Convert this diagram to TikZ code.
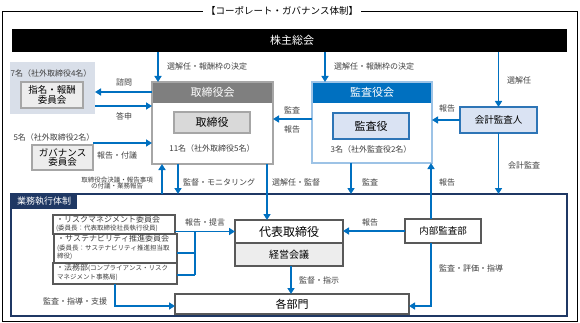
\documentclass[tikz,border=0pt]{standalone}
\usepackage{fontspec}
\setmainfont{Noto Sans CJK JP}[Kerning=Off]
\usetikzlibrary{arrows.meta}
\definecolor{arrblue}{HTML}{0070C0}
\definecolor{navy}{HTML}{1F3864}
\definecolor{dgray}{HTML}{595959}
\definecolor{mgray}{HTML}{A6A6A6}
\definecolor{hgray}{HTML}{7F7F7F}
\definecolor{lgray}{HTML}{EDEDED}
\definecolor{igray}{HTML}{D9D9D9}
\definecolor{bgblue}{HTML}{D9DFE9}
\definecolor{lblue}{HTML}{DAE3F3}
\definecolor{sblue}{HTML}{9DC3E6}
\definecolor{mblue}{HTML}{2E75B6}
\definecolor{txt}{HTML}{404040}
\newcommand{\fs}[1]{\fontsize{#1}{\fpeval{1.2*#1}}\selectfont}
\begin{document}
\begin{tikzpicture}[x=1pt,y=-1pt,
  every node/.style={outer sep=0pt},
  arr/.style={draw=arrblue,line width=1.8pt,-{Triangle[length=6pt,width=7pt]}},
  ln/.style={draw=arrblue,line width=1.8pt},
  lbl/.style={font=\fs{8}, text=txt, inner sep=1pt},
  gbox/.style={draw=mgray,line width=1.5pt,anchor=north west},
  kbox/.style={draw=dgray,line width=1.5pt,anchor=north west,fill=white},
  cbox/.style={draw=dgray,line width=1.5pt,anchor=north west,fill=white,text=txt,inner sep=0pt}
]
\useasboundingbox (0,0) rectangle (580,323);
\fill[white] (0,0) rectangle (580,323);
% outer frame and title
\draw[line width=0.8pt] (2,11) rectangle (577,321);
\node[fill=white, font=\fs{9.5}, inner xsep=3pt, inner ysep=1pt] (title) at (282,11) {【コーポレート・ガバナンス体制】};
% shareholders
\node[fill=black, minimum width=555pt, minimum height=23pt, anchor=north west] (kabu) at (12,29) {};
\node[text=white, font=\fs{11}] (kabut) at (292,40.5) {株主総会};
% board
\node[gbox, fill=white, minimum width=121pt, minimum height=82pt] (tb) at (152,82) {};
\node[fill=hgray, text=white, font=\fs{11}, minimum width=121pt, minimum height=21pt, anchor=north west] (tbh) at (152,82) {取締役会};
\draw[mgray, line width=1.5pt] (tb.north west) rectangle (tb.south east);
\node[gbox, fill=igray, font=\fs{11}, minimum width=76pt, minimum height=21pt] (tr) at (174,112) {取締役};
\node[font=\fs{8}, text=txt] (trn) at (212,148) {11名（社外取締役5名）};
% audit board
\node[draw=sblue, line width=1.5pt, fill=white, minimum width=120pt, minimum height=81pt, anchor=north west] (ka) at (312,82) {};
\node[fill=arrblue, text=white, font=\fs{11}, minimum width=120pt, minimum height=21pt, anchor=north west] (kah) at (312,82) {監査役会};
\draw[sblue, line width=1.5pt] (ka.north west) rectangle (ka.south east);
\node[draw=mblue, line width=1.5pt, fill=lblue, font=\fs{11}, minimum width=76pt, minimum height=26pt, anchor=north west] (kr) at (333,113) {監査役};
\node[font=\fs{8}, text=txt] (krn) at (371,149) {3名（社外監査役2名）};
% accounting auditor
\node[draw=mblue, line width=1.5pt, fill=lblue, font=\fs{9.5}, minimum width=77pt, minimum height=26pt, anchor=north west] (kaikei) at (460,107) {会計監査人};
% nomination committee
\node[fill=bgblue, minimum width=85pt, minimum height=52pt, anchor=north west] (sbg) at (10,62) {};
\node[font=\fs{8}, text=txt] (sn) at (51,73) {7名（社外取締役4名）};
\node[gbox, fill=lgray, font=\fs{9.5}, align=center, minimum width=62pt, minimum height=26pt, inner sep=0pt] (shimei) at (21,82) {指名・報酬\\[-1.5pt]委員会};
% governance committee
\node[font=\fs{8}, text=txt] (gn) at (54,137) {5名（社外取締役2名）};
\node[gbox, fill=lgray, font=\fs{9.5}, align=center, minimum width=61pt, minimum height=25pt, inner sep=0pt] (gov) at (32,145) {ガバナンス\\[-1.5pt]委員会};
% business execution frame
\node[draw=navy, line width=1.5pt, minimum width=556pt, minimum height=122pt, anchor=north west] (gy) at (11,194) {};
\node[fill=navy, text=white, font=\fs{9}, minimum width=66pt, minimum height=15pt, anchor=north west, inner sep=1pt] (gyh) at (11,194) {業務執行体制};
% committees (boxes)
\node[cbox, minimum width=122pt, minimum height=19pt] (risk) at (53,215) {};
\node[cbox, minimum width=123pt, minimum height=29pt] (sust) at (54,234) {};
\node[cbox, minimum width=124pt, minimum height=21pt] (legal) at (53,263) {};
% committees (texts)
\node[anchor=north west, inner sep=0pt, text=txt, font=\fs{8}] (riskt1) at (56,215.5) {・リスクマネジメント委員会};
\node[anchor=north west, inner sep=0pt, text=txt, font=\fs{6.5}] (riskt2) at (56,225) {(委員長：代表取締役社長執行役員)};
\node[anchor=north west, inner sep=0pt, text=txt, font=\fs{8}] (sustt1) at (57,235) {・サステナビリティ推進委員会};
\node[anchor=north west, inner sep=0pt, text=txt, font=\fs{6.5}] (sustt2) at (57,245) {(委員長：サステナビリティ推進担当取};
\node[anchor=north west, inner sep=0pt, text=txt, font=\fs{6.5}] (sustt3) at (57,253) {締役)};
\node[anchor=north west, inner sep=0pt, text=txt] (legalt1) at (56,264) {{\fs{8}・法務部}{\fs{6.5}(コンプライアンス・リスク}};
\node[anchor=north west, inner sep=0pt, text=txt, font=\fs{6.5}] (legalt2) at (57,274.5) {マネジメント事務局)};
% president etc.
\node[kbox, font=\fs{12}, minimum width=108pt, minimum height=23pt] (daihyo) at (235,220) {代表取締役};
\node[kbox, fill=lgray, font=\fs{10}, minimum width=108pt, minimum height=23pt] (keiei) at (235,243) {経営会議};
\node[kbox, font=\fs{9.5}, minimum width=76pt, minimum height=24pt] (naibu) at (405,219) {内部監査部};
\node[kbox, font=\fs{11}, minimum width=234pt, minimum height=20pt] (kakubu) at (175,294) {各部門};
% arrows from shareholders
\draw[arr] (kabu.south -| 158,0) -- (tb.north -| 158,0);
\node[lbl, anchor=west] at (166,66) {選解任・報酬枠の決定};
\draw[arr] (kabu.south -| 325,0) -- (ka.north -| 325,0);
\node[lbl, anchor=west] at (333,66) {選解任・報酬枠の決定};
\draw[arr] (kabu.south -| kaikei.north) -- (kaikei.north);
\node[lbl, anchor=west] at (506,80) {選解任};
% nomination / governance
\draw[arr] (tb.west |- 0,92) -- (sbg.east |- 0,92);
\node[lbl] at (124,82) {諮問};
\draw[arr] (sbg.east |- 0,106) -- (tb.west |- 0,106);
\node[lbl] at (124,116) {答申};
\draw[arr] (gov.east |- 0,143) -- (tb.west |- 0,143);
\node[lbl] at (117,155) {報告・付議};
% audit board <-> board
\draw[arr] (ka.west |- 0,119) -- (tb.east |- 0,119);
\node[lbl] at (292,110) {監査};
\node[lbl] at (292,129) {報告};
\draw[arr] (kaikei.west) -- (ka.east |- kaikei.west);
\node[lbl] at (447,108) {報告};
\draw[arr] (kaikei.south) -- (kaikei.south |- gy.north);
\node[lbl, fill=white, inner sep=2pt] at (524,165) {会計監査};
\draw[arr] (ka.south -| 351,0) -- (gy.north -| 351,0);
\node[lbl, fill=white, inner sep=2pt] at (370,182) {監査};
\draw[arr] (naibu.north -| 431,0) -- (ka.south -| 431,0);
\node[lbl, fill=white, inner sep=2pt] at (447,182) {報告};
% board <-> execution
\draw[arr] (gy.north -| 162,0) -- (tb.south -| 162,0);
\node[font=\fs{6.5}, text=txt, align=center, inner sep=0pt] at (117,183) {取締役会決議・報告事項\\[-1pt]の付議・業務報告};
\draw[arr] (tb.south -| 178,0) -- (gy.north -| 178,0);
\node[lbl, anchor=west] at (182,182) {監督・モニタリング};
\draw[arr] (tb.south -| 267,0) -- (daihyo.north -| 267,0);
\node[lbl, anchor=west] at (271,182) {選解任・監督};
% committees -> president
\coordinate (bus) at (195,232);
\draw[arr] (daihyo.west -| risk.east) -- (daihyo.west);
\draw[ln] (bus) -- (bus |- 0,275);
\draw[ln] (sust.east |- 0,253) -- (bus |- 0,253);
\draw[ln] (legal.east |- 0,275) -- (bus |- 0,275);
\node[lbl] at (205,222) {報告・提言};
% internal audit
\draw[arr] (naibu.west) -- (daihyo.east |- naibu.west);
\node[lbl] at (370,222) {報告};
\draw[arr] (naibu.south -| 431,0) |- (kakubu.east |- 0,306);
\node[lbl, anchor=west] at (438,268) {監査・評価・指導};
% president -> departments
\draw[arr] (keiei.south -| 291,0) -- (kakubu.north -| 291,0);
\node[lbl, anchor=west] at (298,280) {監督・指示};
\draw[arr] (legal.south -| 115,0) |- (kakubu.west |- 0,306);
\node[lbl] at (75,301) {監査・指導・支援};
\end{tikzpicture}
\end{document}
